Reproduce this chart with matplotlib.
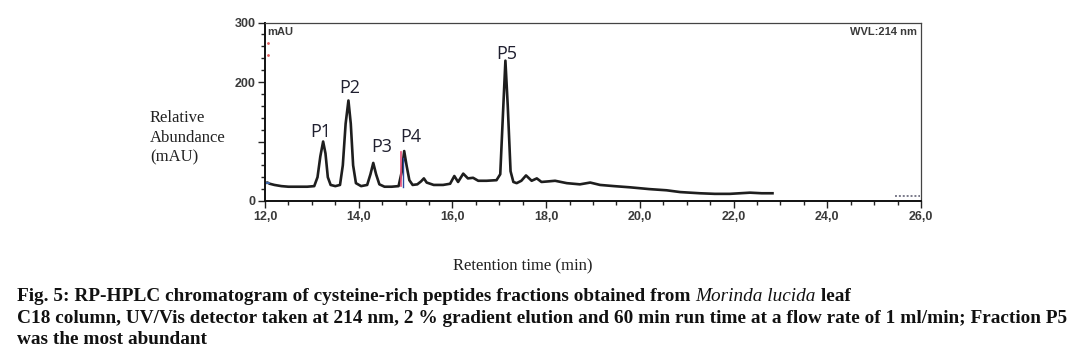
import matplotlib
matplotlib.use('Agg')
import matplotlib.pyplot as plt
from matplotlib.ticker import MultipleLocator, FuncFormatter

# chromatogram trace (min, mAU)
time_min = [12.00, 12.05, 12.10, 12.20, 12.35, 12.50, 12.70, 12.90, 13.05, 13.12,
            13.18, 13.24, 13.29, 13.34, 13.40, 13.50, 13.60, 13.66, 13.72, 13.78,
            13.83, 13.88, 13.94, 14.05, 14.18, 14.25, 14.31, 14.37, 14.44, 14.55,
            14.70, 14.85, 14.92, 14.97, 15.02, 15.08, 15.15, 15.25, 15.33, 15.39,
            15.45, 15.60, 15.80, 15.95, 16.04, 16.12, 16.23, 16.33, 16.44, 16.55,
            16.73, 16.94, 17.02, 17.08, 17.13, 17.18, 17.24, 17.30, 17.37, 17.47,
            17.57, 17.69, 17.80, 17.90, 18.05, 18.19, 18.44, 18.72, 18.94, 19.15,
            19.45, 19.79, 20.20, 20.57, 20.86, 21.28, 21.60, 21.92, 22.35, 22.60,
            22.83]
mau = [30, 31, 29, 27, 25, 24, 24, 24, 25, 40,
       75, 100, 80, 40, 27, 25, 27, 60, 130, 169,
       130, 60, 30, 25, 27, 45, 64, 45, 28, 24,
       24, 25, 50, 84, 60, 35, 27, 28, 33, 38,
       31, 27, 27, 29, 42, 32, 46, 38, 39, 34,
       34, 35, 45, 150, 236, 160, 50, 32, 30, 34,
       43, 34, 38, 32, 33, 34, 30, 28, 31, 27,
       25, 23, 20, 18, 15, 13, 12, 12, 14, 13,
       13]

peak_names = ['P1', 'P2', 'P3', 'P4', 'P5']
peak_label_t = [13.19, 13.81, 14.49, 15.11, 17.15]
peak_label_v = [116, 190, 91, 108, 247]

x_ticks = [12, 14, 16, 18, 20, 22, 24, 26]
y_ticks = [0, 100, 200, 300]

fig = plt.figure(figsize=(10.8, 3.57), dpi=100)
ax = fig.add_axes([0.2454, 0.437, 0.6074, 0.4997])

ax.plot(time_min, mau, color='#1e1e1e', lw=1.9, solid_joinstyle='round')
# event markers near P4 and the start of the run
ax.plot([14.90, 14.90], [25, 82], color='#e8507a', lw=1.2)
ax.plot([14.95, 14.95], [24, 72], color='#2a4aa0', lw=1.0)
ax.plot([12.06, 12.06], [266, 245], ls='none', marker='.', ms=2, color='#e06060')
ax.plot([12.0, 12.08], [31, 31], color='#4a7ac8', lw=1.2)
ax.plot([25.45, 25.97], [9, 9], color='#7a7a8a', lw=1.4, ls=(0, (1, 1)))

for name, t, v in zip(peak_names, peak_label_t, peak_label_v):
	ax.text(t, v, name, ha='center', va='center', fontsize=13,
		family='Open Sans', color='#202030')

ax.set_xlim(12, 26)
ax.set_ylim(0, 300)
ax.set_xticks(x_ticks)
ax.set_yticks(y_ticks)
ax.xaxis.set_minor_locator(MultipleLocator(0.5))
ax.yaxis.set_minor_locator(MultipleLocator(20))
ax.xaxis.set_major_formatter(FuncFormatter(lambda x, p: '{0:.1f}'.format(x).replace('.', ',')))
ax.yaxis.set_major_formatter(FuncFormatter(lambda y, p: '' if y == 100 else '{0:.0f}'.format(y)))
ax.tick_params(which='both', direction='out', color='#222', width=1)
ax.tick_params(which='major', length=5, labelsize=9, labelcolor='#3a3a3a', pad=2)
ax.tick_params(which='minor', length=3)
for lab in ax.get_xticklabels() + ax.get_yticklabels():
	lab.set_fontweight('bold')
	lab.set_family('Liberation Sans')
for s in ['left', 'bottom']:
	ax.spines[s].set_color('#111')
	ax.spines[s].set_linewidth(1.4)
for s in ['top', 'right']:
	ax.spines[s].set_color('#444')
	ax.spines[s].set_linewidth(0.9)

ax.text(0.004, 0.975, 'mAU', transform=ax.transAxes, ha='left', va='top',
	fontsize=8, fontweight='bold', family='Liberation Sans', color='#3a3a3a')
ax.text(0.994, 0.975, 'WVL:214 nm', transform=ax.transAxes, ha='right', va='top',
	fontsize=8, fontweight='bold', family='Liberation Sans', color='#3a3a3a')

serif = 'Liberation Serif'
fig.text(150/1080, 1-138/357, 'Relative\nAbundance\n(mAU)', ha='left', va='center',
	fontsize=12, family=serif, color='#222', linespacing=1.3)
fig.text(523/1080, 1-266/357, 'Retention time (min)', ha='center', va='center',
	fontsize=12, family=serif, color='#222')

# caption with an italic species name in line 1
r = fig.canvas.get_renderer()
cap = dict(fontsize=13.9, family=serif, fontweight='bold', color='#111', va='baseline')
x0 = 17/1080
t1 = fig.text(x0, 1-300.7/357, 'Fig. 5: RP-HPLC chromatogram of cysteine-rich peptides fractions obtained from ', **cap)
w1 = t1.get_window_extent(renderer=r).width/1080
t2 = fig.text(x0+w1, 1-300.7/357, 'Morinda lucida', style='italic', **dict(cap, fontweight='normal'))
w2 = t2.get_window_extent(renderer=r).width/1080
fig.text(x0+w1+w2, 1-300.7/357, ' leaf', **cap)
fig.text(x0, 1-322.7/357, 'C18 column, UV/Vis detector taken at 214 nm, 2 % gradient elution and 60 min run time at a flow rate of 1 ml/min; Fraction P5', **cap)
fig.text(x0, 1-344/357, 'was the most abundant', **cap)

plt.savefig('out.png', dpi=100)
